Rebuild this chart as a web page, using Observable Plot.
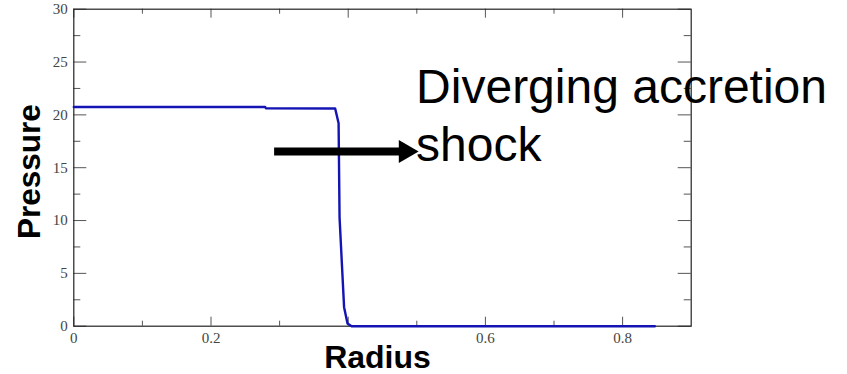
<!DOCTYPE html>
<html>
<head>
<meta charset="utf-8">
<script src="https://cdn.jsdelivr.net/npm/d3@7"></script>
<script src="https://cdn.jsdelivr.net/npm/@observablehq/plot@0.6"></script>
<style>
  html, body { margin: 0; padding: 0; background: #fff; }
  #chart svg { display: block; }
</style>
</head>
<body>
<div id="chart"></div>
<script>
// Series
const radius   = [0, 0.279, 0.28, 0.381, 0.386, 0.3874, 0.3908, 0.394, 0.399, 0.405, 0.847];
const pressure = [20.75, 20.75, 20.62, 20.6, 19.2, 10.3, 5.9, 1.8, 0.25, 0, 0];

// Axis ticks
const xMajor = [0, 0.2, 0.4, 0.6, 0.8];
const xMinor = [0.1, 0.3, 0.5, 0.7];
const xTickLabelValues = [0, 0.2, 0.6, 0.8];
const xTickLabels = ["0", "0.2", "0.6", "0.8"];
const yMajor = [0, 5, 10, 15, 20, 25, 30];
const yMinor = [2.5, 7.5, 12.5, 17.5, 22.5, 27.5];
const yTickLabels = ["0", "5", "10", "15", "20", "25", "30"];

// Annotation (data coordinates)
const arrowX = [0.292, 0.476];
const arrowY = [16.54, 16.54];
const arrowHeadX = [0.4834];
const arrowHeadY = [16.54];
const annotText = ["Diverging accretion", "shock"];
const annotX = [0.499, 0.499];
const annotY = [21.08, 15.6];

const xLabel = "Radius";
const yLabel = "Pressure";

const lineData = radius.map((r, i) => ({r, p: pressure[i]}));
const arrowData = arrowX.map((x, i) => ({x, y: arrowY[i]}));
const annotData = annotText.map((t, i) => ({t, x: annotX[i], y: annotY[i]}));

const xTop = 30, xBottom = 0, yLeft = 0, yRight = 0.9;
const tickColor = "#555";

const chart = Plot.plot({
  width: 847,
  height: 374,
  marginLeft: 73.3,
  marginRight: 156.3,
  marginTop: 8.7,
  marginBottom: 48.3,
  x: {domain: [0, 0.9], axis: null},
  y: {domain: [0, 30], axis: null},
  style: {background: "#fff", overflow: "visible"},
  marks: [
    // inward ticks: bottom / top
    Plot.ruleX(xMajor, {x: d => d, y1: xBottom, y2: xBottom, insetBottom: 9, stroke: tickColor}),
    Plot.ruleX(xMinor, {x: d => d, y1: xBottom, y2: xBottom, insetBottom: 5, stroke: tickColor}),
    Plot.ruleX(xMajor, {x: d => d, y1: xTop, y2: xTop, insetTop: 9, stroke: tickColor}),
    Plot.ruleX(xMinor, {x: d => d, y1: xTop, y2: xTop, insetTop: 5, stroke: tickColor}),
    // inward ticks: left / right
    Plot.ruleY(yMajor, {y: d => d, x1: yLeft, x2: yLeft, insetLeft: 13, stroke: tickColor}),
    Plot.ruleY(yMinor, {y: d => d, x1: yLeft, x2: yLeft, insetLeft: 7, stroke: tickColor}),
    Plot.ruleY(yMajor, {y: d => d, x1: yRight, x2: yRight, insetRight: 13, stroke: tickColor}),
    Plot.ruleY(yMinor, {y: d => d, x1: yRight, x2: yRight, insetRight: 7, stroke: tickColor}),
    Plot.frame({stroke: "#222", strokeWidth: 1.2}),
    // tick labels
    Plot.text(xTickLabelValues, {
      x: d => d, y: xBottom, text: (d, i) => xTickLabels[i],
      dy: 12, fontFamily: "Liberation Serif", fontSize: 15, fill: "#444", textAnchor: "middle"
    }),
    Plot.text(yMajor, {
      x: yLeft, y: d => d, text: (d, i) => yTickLabels[i],
      dx: -6, fontFamily: "Liberation Serif", fontSize: 15, fill: "#444", textAnchor: "end"
    }),
    // data line
    Plot.line(lineData, {x: "r", y: "p", stroke: "#1414b4", strokeWidth: 2.4, strokeLinejoin: "round"}),
    // annotation arrow
    Plot.line(arrowData, {x: "x", y: "y", stroke: "#000", strokeWidth: 8, strokeLinecap: "butt"}),
    Plot.dot(arrowHeadX, {x: d => d, y: (d, i) => arrowHeadY[i], symbol: "triangle", rotate: 90, r: 8.5, fill: "#000", stroke: "none"}),
    Plot.text(annotData, {
      x: "x", y: "y", text: "t", textAnchor: "start", lineAnchor: "bottom",
      fontFamily: "Liberation Sans", fontSize: 48, fill: "#000"
    }),
    // axis titles
    Plot.text([xLabel], {
      frameAnchor: "bottom", text: d => d, dx: -5, dy: 42, lineAnchor: "bottom", textAnchor: "middle",
      fontFamily: "Liberation Sans", fontWeight: "bold", fontSize: 32, fill: "#000"
    }),
    Plot.text([yLabel], {
      frameAnchor: "left", text: d => d, dx: -44, dy: 4, rotate: -90, lineAnchor: "middle", textAnchor: "middle",
      fontFamily: "Liberation Sans", fontWeight: "bold", fontSize: 31.5, fill: "#000"
    })
  ]
});

document.getElementById("chart").appendChild(chart);
</script>
</body>
</html>
